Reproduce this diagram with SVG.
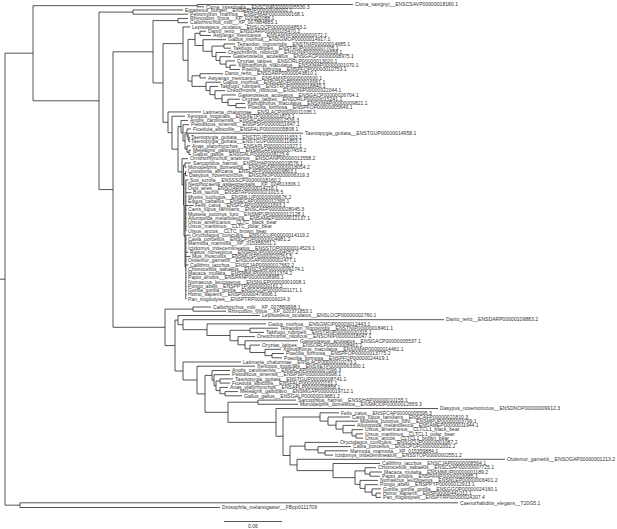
<svg xmlns="http://www.w3.org/2000/svg" width="617" height="529" viewBox="0 0 617 529">
<style>
.e{fill:none;stroke:#2a2a2a;stroke-width:0.8}
text{font-family:"Liberation Sans",Arial,sans-serif;font-size:5.1px;fill:#333}
</style>
<rect width="617" height="529" fill="#fff"/>
<g id="connectors" class="e">
<path d="M0 279.2H5M5 53.2V505.15M5 53.2H33M5 505.15H20M20 502.8V507.5M20 502.8H458M20 507.5H220"/>
<path d="M33 5.65V100.8M33 5.65H197M197 4.5V6.8M197 4.5H353M197 6.8H204"/>
<path d="M33 100.8H99M99 12.1V189.55M99 12.1H133M133 9.95V14.2M133 9.95H183M133 14.2H188"/>
<path d="M99 189.55H113M113 51.8V327.3M113 51.8H153M153 20.6V82.95M153 20.6H178M178 18.45V22.7M178 18.45H188M178 22.7H188"/>
<path d="M153 82.95H163M163 43.6V122.3M163 43.6H183M183 26.95V60.25M183 26.95H190M183 60.25H188M188 39.4V81.1"/>
<path d="M188 39.4H195M195 33.3V45.5M195 33.3H200M200 31.2V35.45M200 31.2H206M200 35.45H211M195 45.5H203M203 39.7V51.25M203 39.7H226M203 51.25H212M212 46.1V56.4M212 46.1H224M224 43.95V48.2M224 43.95H235M224 48.2H231M212 56.4H216M216 52.45V60.4M216 52.45H226M216 60.4H220M220 56.7V64.1M220 56.7H231M220 64.1H226M226 60.95V67.3M226 60.95H235M226 67.3H230M230 65.2V69.45M230 65.2H236M230 69.45H240"/>
<path d="M188 81.1H192M192 75.8V86.4M192 75.8H200M200 73.7V77.95M200 73.7H223M200 77.95H206M192 86.4H206M206 82.2V90.6M206 82.2H221M206 90.6H210M210 86.45V94.7M210 86.45H218M210 94.7H215M215 90.7V98.7M215 90.7H225M215 98.7H222M222 94.95V102.4M222 94.95H236M222 102.4H228M228 99.2V105.6M228 99.2H240M228 105.6H236M236 103.45V107.7M236 103.45H245M236 107.7H246"/>
<path d="M163 122.3H168M168 111.95V132.7M168 111.95H201M168 132.7H172M172 116.2V149.2M172 116.2H185M172 149.2H178M178 126.6V171.85M178 126.6H181M181 120.45V132.8M181 120.45H188M181 132.8H183M183 124.7V140.9M183 124.7H189M183 140.9H185M185 132.7V149.1M185 132.7H187M187 128.95V136.4M187 128.95H191M187 136.4H188M188 133.2V139.6M188 133.2H303M188 139.6H189M189 137.45V141.7M189 137.45H190M189 141.7H190M185 149.1H187M187 145.95V152.3M187 145.95H190M187 152.3H189M189 150.2V154.45M189 150.2H191M189 154.45H191"/>
<path d="M178 171.85H182M182 158.7V185M182 158.7H188M182 185H183.5M183.5 165.1V204.9M183.5 165.1H185M185 162.95V167.2M185 162.95H191M185 167.2H186.5M183.5 204.9H184M184 173.6V236.3M184 173.6H185.5M185.5 171.45V175.7M185.5 171.45H186.5M185.5 175.7H187.5M184 236.3H185M185 205.45V267.1M185 205.45H185.8M185.8 179.95V230.95M185 267.1H185.8M185.8 235.2V298.95"/>
<path d="M185.8 179.95H188.5M185.8 184.2H186.5M185.8 188.45H186.5M185.8 192.7H191.5M185.8 196.95H186.5M185.8 201.2H186.5M185.8 205.45H193.5M185.8 209.7H186.5M185.8 213.95H186.5M185.8 218.2H186.5M185.8 222.45H186.5M185.8 226.7H186.5M185.8 230.95H186.5M185.8 235.2H190.5M185.8 239.45H186.5M185.8 243.7H186.5M185.8 247.95H186.5M185.8 252.2H188.5M185.8 256.45H190.5M185.8 260.7H186.5M185.8 264.95H188.5M185.8 269.2H186.5M185.8 273.45H186.5M185.8 277.7H186.5M185.8 281.95H186.5M185.8 286.2H186.5M185.8 290.45H186.5M185.8 294.7H186.5M185.8 298.95H186.5"/>
<path d="M113 327.3H165M165 309.1V345.55M165 309.1H193M193 307V311.2M193 307H211M193 311.2H226M165 345.55H175M175 320.1V371M175 320.1H178M178 315.5V324.7M178 315.5H260M178 324.7H183M183 319.7V329.7M183 319.7H444M183 329.7H207M207 323.9V335.5M207 323.9H266M207 335.5H230M230 330.3V340.7M230 330.3H250M250 328.2V332.4M250 328.2H278M250 332.4H264M230 340.7H238M238 336.6V344.8M238 336.6H255M238 344.8H245M245 340.8V348.8M245 340.8H298M245 348.8H250M250 345.1V352.5M250 345.1H260M250 352.5H265M265 349.3V355.65M265 349.3H281M265 355.65H272M272 353.5V357.8M272 353.5H284M272 357.8H282"/>
<path d="M175 371H183M183 362V380M183 362H241M183 380H197M197 366.2V393.9M197 366.2H255M197 393.9H205M205 375.4V412.3M205 375.4H212M212 370.5V380.2M212 370.5H230M212 380.2H214M214 374.7V385.8M214 374.7H230M214 385.8H216M216 381V390.55M216 381H220M220 378.9V383.1M220 378.9H233M220 383.1H230M216 390.55H220M220 387.4V393.7M220 387.4H228M220 393.7H225M225 391.6V395.8M225 391.6H238M225 395.8H242"/>
<path d="M205 412.3H228M228 402.2V422.4M228 402.2H258M258 400.1V404.3M258 400.1H296M258 404.3H298M228 422.4H276M276 408.5V436.25M276 408.5H438M276 436.25H283M283 417V455.5M283 417H320M320 412.8V421.1M320 412.8H339M320 421.1H328M328 417V425.2M328 417H350M328 425.2H336M336 421.2V429.1M336 421.2H358M336 429.1H343M343 425.4V432.85M343 425.4H355M343 432.85H352M352 429.7V436M352 429.7H363M352 436H356M356 433.9V438.1M356 433.9H363M356 438.1H363"/>
<path d="M283 455.5H290M290 446.1V464.95M290 446.1H305M305 442.4V449.8M305 442.4H338M305 449.8H318M318 446.6V452.95M318 446.6H351M318 452.95H325M325 450.8V455.1M325 450.8H348M325 455.1H333M290 464.95H297M297 459.3V470.6M297 459.3H505M297 470.6H333M333 463.5V477.65M333 463.5H380M333 477.65H355M355 470.9V484.4M355 470.9H365M365 467.7V474.1M365 467.7H376M365 474.1H370M370 472V476.2M370 472H382M370 476.2H380M355 484.4H360M360 480.4V488.4M360 480.4H378M360 488.4H365M365 484.7V492.1M365 484.7H378M365 492.1H372M372 488.9V495.25M372 488.9H381M372 495.25H376M376 493.1V497.4M376 493.1H381M376 497.4H381"/>
</g>
<g id="scale"><path class="e" d="M224 521.5H282"/><text x="253" y="528.3" text-anchor="middle">0.06</text></g>
<g id="tip001"><text x="355" y="6.2">Ciona_savignyi__ENSCSAVP00000018180.1</text></g>
<g id="tip002"><text x="206" y="8.5">Ciona_intestinalis__ENSCINP00000005530.3</text></g>
<g id="tip003"><text x="185" y="11.65">Eptatretus_burgeri__ENSEBUP00000000002.1</text></g>
<g id="tip004"><text x="190" y="15.9">Petromyzon_marinus__ENSPMAP00000000168.1</text></g>
<g id="tip005"><text x="190" y="20.15">Rhincodon_typus__XP_020382088.1</text></g>
<g id="tip006"><text x="190" y="24.4">Callorhinchus_milii__XP_007884885.1</text></g>
<g id="tip007"><text x="192" y="28.65">Lepisosteus_oculatus__ENSLOCP00000004853.1</text></g>
<g id="tip008"><text x="208" y="32.9">Danio_rerio__ENSDARP00000105470.2</text></g>
<g id="tip009"><text x="213" y="37.15">Astyanax_mexicanus__ENSAMXP00000002072.1</text></g>
<g id="tip010"><text x="228" y="41.4">Gadus_morhua__ENSGMOP00000014917.1</text></g>
<g id="tip011"><text x="237" y="45.65">Tetraodon_nigroviridis__ENSTNIP00000014685.1</text></g>
<g id="tip012"><text x="233" y="49.9">Takifugu_rubripes__ENSTRUP00000007705.1</text></g>
<g id="tip013"><text x="228" y="54.15">Oreochromis_niloticus__ENSONIP00000006658.1</text></g>
<g id="tip014"><text x="233" y="58.4">Gasterosteus_aculeatus__ENSGACP00000008975.1</text></g>
<g id="tip015"><text x="237" y="62.65">Oryzias_latipes__ENSORLP00000013020.1</text></g>
<g id="tip016"><text x="238" y="66.9">Xiphophorus_maculatus__ENSXMAP00000001070.1</text></g>
<g id="tip017"><text x="242" y="71.15">Poecilia_formosa__ENSPFOP00000010753.1</text></g>
<g id="tip018"><text x="225" y="75.4">Danio_rerio__ENSDARP00000043810.1</text></g>
<g id="tip019"><text x="208" y="79.65">Astyanax_mexicanus__ENSAMXP00000000600.1</text></g>
<g id="tip020"><text x="223" y="83.9">Gadus_morhua__ENSGMOP00000016061.1</text></g>
<g id="tip021"><text x="220" y="88.15">Takifugu_rubripes__ENSTRUP00000018840.1</text></g>
<g id="tip022"><text x="227" y="92.4">Oreochromis_niloticus__ENSONIP00000022044.1</text></g>
<g id="tip023"><text x="238" y="96.65">Gasterosteus_aculeatus__ENSGACP00000026704.1</text></g>
<g id="tip024"><text x="242" y="100.9">Oryzias_latipes__ENSORLP00000015241.1</text></g>
<g id="tip025"><text x="247" y="105.15">Xiphophorus_maculatus__ENSXMAP00000009821.1</text></g>
<g id="tip026"><text x="248" y="109.4">Poecilia_formosa__ENSPFOP00000005649.1</text></g>
<g id="tip027"><text x="203" y="113.65">Latimeria_chalumnae__ENSLACP00000011035.1</text></g>
<g id="tip028"><text x="187" y="117.9">Xenopus_tropicalis__ENSXETP00000011873.1</text></g>
<g id="tip029"><text x="190" y="122.15">Anolis_carolinensis__ENSACAP00000012536.3</text></g>
<g id="tip030"><text x="191" y="126.4">Pelodiscus_sinensis__ENSPSIP00000011647.1</text></g>
<g id="tip031"><text x="193" y="130.65">Ficedula_albicollis__ENSFALP00000005808.1</text></g>
<g id="tip032"><text x="305" y="134.9">Taeniopygia_guttata__ENSTGUP00000014958.1</text></g>
<g id="tip033"><text x="191" y="139.15">Taeniopygia_guttata__ENSTGUP00000011653.1</text></g>
<g id="tip034"><text x="191" y="143.4">Taeniopygia_guttata__ENSTGUP00000011853.1</text></g>
<g id="tip035"><text x="192" y="147.65">Anas_platyrhynchos__ENSAPLP00000011927.1</text></g>
<g id="tip036"><text x="193" y="151.9">Meleagris_gallopavo__ENSMGAP00000007459.2</text></g>
<g id="tip037"><text x="193" y="156.15">Gallus_gallus__ENSGALP00000008225.4</text></g>
<g id="tip038"><text x="190" y="160.4">Ornithorhynchus_anatinus__ENSOANP00000013558.2</text></g>
<g id="tip039"><text x="193" y="164.65">Sarcophilus_harrisii__ENSSHAP00000019576.1</text></g>
<g id="tip040"><text x="188" y="168.9">Monodelphis_domestica__ENSMODP00000018054.2</text></g>
<g id="tip041"><text x="188" y="173.15">Loxodonta_africana__ENSLAFP00000009863.1</text></g>
<g id="tip042"><text x="189" y="177.4">Dasypus_novemcinctus__ENSDNOP00000006319.3</text></g>
<g id="tip043"><text x="190" y="181.65">Sus_scrofa__ENSSSCP00000018160.2</text></g>
<g id="tip044"><text x="188" y="185.9">Neophocaena_asiaeorientalis__XP_024613306.1</text></g>
<g id="tip045"><text x="188" y="190.15">Ovis_aries__ENSOARP00000014216.1</text></g>
<g id="tip046"><text x="193" y="194.4">Bos_taurus__ENSBTAP00000021015.5</text></g>
<g id="tip047"><text x="188" y="198.65">Myotis_lucifugus__ENSMLUP00000009676.2</text></g>
<g id="tip048"><text x="188" y="202.9">Equus_caballus__ENSECAP00000012395.1</text></g>
<g id="tip049"><text x="195" y="207.15">Felis_catus__ENSFCAP00000011693.1</text></g>
<g id="tip050"><text x="188" y="211.4">Canis_lupus_familiaris__ENSCAFP00000028045.3</text></g>
<g id="tip051"><text x="188" y="215.65">Mustela_putorius_furo__ENSMPUP00000012128.1</text></g>
<g id="tip052"><text x="188" y="219.9">Ailuropoda_melanoleuca__ENSAMEP00000012137.1</text></g>
<g id="tip053"><text x="188" y="224.15">Ursus_americanus__CLTC_black_bear</text></g>
<g id="tip054"><text x="188" y="228.4">Ursus_maritimus__CLTC_polar_bear</text></g>
<g id="tip055"><text x="188" y="232.65">Ursus_arctos__CLTC_brown_bear</text></g>
<g id="tip056"><text x="192" y="236.9">Oryctolagus_cuniculus__ENSOCUP00000014119.2</text></g>
<g id="tip057"><text x="188" y="241.15">Cavia_porcellus__ENSCPOP00000004981.2</text></g>
<g id="tip058"><text x="188" y="245.4">Marmota_marmota__XP_015356051.1</text></g>
<g id="tip059"><text x="188" y="249.65">Ictidomys_tridecemlineatus__ENSSTOP00000014529.1</text></g>
<g id="tip060"><text x="190" y="253.9">Rattus_norvegicus__ENSRNOP00000004057.2</text></g>
<g id="tip061"><text x="192" y="258.15">Mus_musculus__ENSMUSP00000020761.5</text></g>
<g id="tip062"><text x="188" y="262.4">Otolemur_garnettii__ENSOGAP00000002477.1</text></g>
<g id="tip063"><text x="190" y="266.65">Callithrix_jacchus__ENSCJAP00000017662.2</text></g>
<g id="tip064"><text x="188" y="270.9">Chlorocebus_sabaeus__ENSCSAP00000009174.1</text></g>
<g id="tip065"><text x="188" y="275.15">Macaca_mulatta__ENSMMUP00000011374.2</text></g>
<g id="tip066"><text x="188" y="279.4">Papio_anubis__ENSPANP00000008965.1</text></g>
<g id="tip067"><text x="188" y="283.65">Nomascus_leucogenys__ENSNLEP00000001008.1</text></g>
<g id="tip068"><text x="188" y="287.9">Pongo_abelii__ENSPPYP00000009161.2</text></g>
<g id="tip069"><text x="188" y="292.15">Gorilla_gorilla_gorilla__ENSGGOP00000021171.1</text></g>
<g id="tip070"><text x="188" y="296.4">Homo_sapiens__ENSP00000479606.1</text></g>
<g id="tip071"><text x="188" y="300.65">Pan_troglodytes__ENSPTRP00000016024.3</text></g>
<g id="tip072"><text x="213" y="308.7">Callorhinchus_milii__XP_007889998.1</text></g>
<g id="tip073"><text x="228" y="312.9">Rhincodon_typus__XP_020371853.1</text></g>
<g id="tip074"><text x="262" y="317.2">Lepisosteus_oculatus__ENSLOCP00000002760.1</text></g>
<g id="tip075"><text x="446" y="321.4">Danio_rerio__ENSDARP00000109883.2</text></g>
<g id="tip076"><text x="268" y="325.6">Gadus_morhua__ENSGMOP00000012443.1</text></g>
<g id="tip077"><text x="280" y="329.9">Tetraodon_nigroviridis__ENSTNIP00000018461.1</text></g>
<g id="tip078"><text x="266" y="334.1">Takifugu_rubripes__ENSTRUP00000020315.1</text></g>
<g id="tip079"><text x="257" y="338.3">Oreochromis_niloticus__ENSONIP00000018047.1</text></g>
<g id="tip080"><text x="300" y="342.5">Gasterosteus_aculeatus__ENSGACP00000005537.1</text></g>
<g id="tip081"><text x="262" y="346.8">Oryzias_latipes__ENSORLP00000008461.1</text></g>
<g id="tip082"><text x="283" y="351">Xiphophorus_maculatus__ENSXMAP00000014461.1</text></g>
<g id="tip083"><text x="286" y="355.2">Poecilia_formosa__ENSPFOP00000013775.2</text></g>
<g id="tip084"><text x="284" y="359.5">Poecilia_formosa__ENSPFOP00000024419.1</text></g>
<g id="tip085"><text x="243" y="363.7">Latimeria_chalumnae__ENSLACP00000010273.1</text></g>
<g id="tip086"><text x="257" y="367.9">Xenopus_tropicalis__ENSXETP00000063300.1</text></g>
<g id="tip087"><text x="232" y="372.2">Anolis_carolinensis__ENSACAP00000007096.3</text></g>
<g id="tip088"><text x="232" y="376.4">Pelodiscus_sinensis__ENSPSIP00000006598.1</text></g>
<g id="tip089"><text x="235" y="380.6">Taeniopygia_guttata__ENSTGUP00000008741.1</text></g>
<g id="tip090"><text x="232" y="384.8">Ficedula_albicollis__ENSFALP00000002151.1</text></g>
<g id="tip091"><text x="230" y="389.1">Anas_platyrhynchos__ENSAPLP00000008858.1</text></g>
<g id="tip092"><text x="240" y="393.3">Meleagris_gallopavo__ENSMGAP00000019712.1</text></g>
<g id="tip093"><text x="244" y="397.5">Gallus_gallus__ENSGALP00000019681.2</text></g>
<g id="tip094"><text x="298" y="401.8">Sarcophilus_harrisii__ENSSHAP00000010155.1</text></g>
<g id="tip095"><text x="300" y="406">Monodelphis_domestica__ENSMODP00000012659.3</text></g>
<g id="tip096"><text x="440" y="410.2">Dasypus_novemcinctus__ENSDNOP00000009912.3</text></g>
<g id="tip097"><text x="341" y="414.5">Felis_catus__ENSFCAP00000005595.3</text></g>
<g id="tip098"><text x="352" y="418.7">Canis_lupus_familiaris__ENSCAFP00000021810.3</text></g>
<g id="tip099"><text x="360" y="422.9">Mustela_putorius_furo__ENSMPUP00000003799.1</text></g>
<g id="tip100"><text x="357" y="427.1">Ailuropoda_melanoleuca__ENSAMEP00000011944.1</text></g>
<g id="tip101"><text x="365" y="431.4">Ursus_americanus__CLTCL1_black_bear</text></g>
<g id="tip102"><text x="365" y="435.6">Ursus_maritimus__CLTCL1_polar_bear</text></g>
<g id="tip103"><text x="365" y="439.8">Ursus_arctos__CLTCL1_brown_bear</text></g>
<g id="tip104"><text x="340" y="444.1">Oryctolagus_cuniculus__ENSOCUP00000001087.2</text></g>
<g id="tip105"><text x="353" y="448.3">Cavia_porcellus__ENSCPOP00000002052.2</text></g>
<g id="tip106"><text x="350" y="452.5">Marmota_marmota__XP_015359884.1</text></g>
<g id="tip107"><text x="335" y="456.8">Ictidomys_tridecemlineatus__ENSSTOP00000002551.2</text></g>
<g id="tip108"><text x="507" y="461">Otolemur_garnettii__ENSOGAP00000001213.2</text></g>
<g id="tip109"><text x="382" y="465.2">Callithrix_jacchus__ENSCJAP00000008564.1</text></g>
<g id="tip110"><text x="378" y="469.4">Chlorocebus_sabaeus__ENSCSAP00000007725.1</text></g>
<g id="tip111"><text x="384" y="473.7">Macaca_mulatta__ENSMMUP00000001189.2</text></g>
<g id="tip112"><text x="382" y="477.9">Papio_anubis__ENSPANP00000016685.1</text></g>
<g id="tip113"><text x="380" y="482.1">Nomascus_leucogenys__ENSNLEP00000006401.2</text></g>
<g id="tip114"><text x="380" y="486.4">Pongo_abelii__ENSPPYP00000012913.1</text></g>
<g id="tip115"><text x="383" y="490.6">Gorilla_gorilla_gorilla__ENSGGOP00000024160.1</text></g>
<g id="tip116"><text x="383" y="494.8">Homo_sapiens__ENSP00000441012.1</text></g>
<g id="tip117"><text x="383" y="499.1">Pan_troglodytes__ENSPTRP00000024207.4</text></g>
<g id="tip118"><text x="460" y="504.5">Caenorhabditis_elegans__T20G5.1</text></g>
<g id="tip119"><text x="222" y="509.2">Drosophila_melanogaster__FBpp0111709</text></g>
</svg>
